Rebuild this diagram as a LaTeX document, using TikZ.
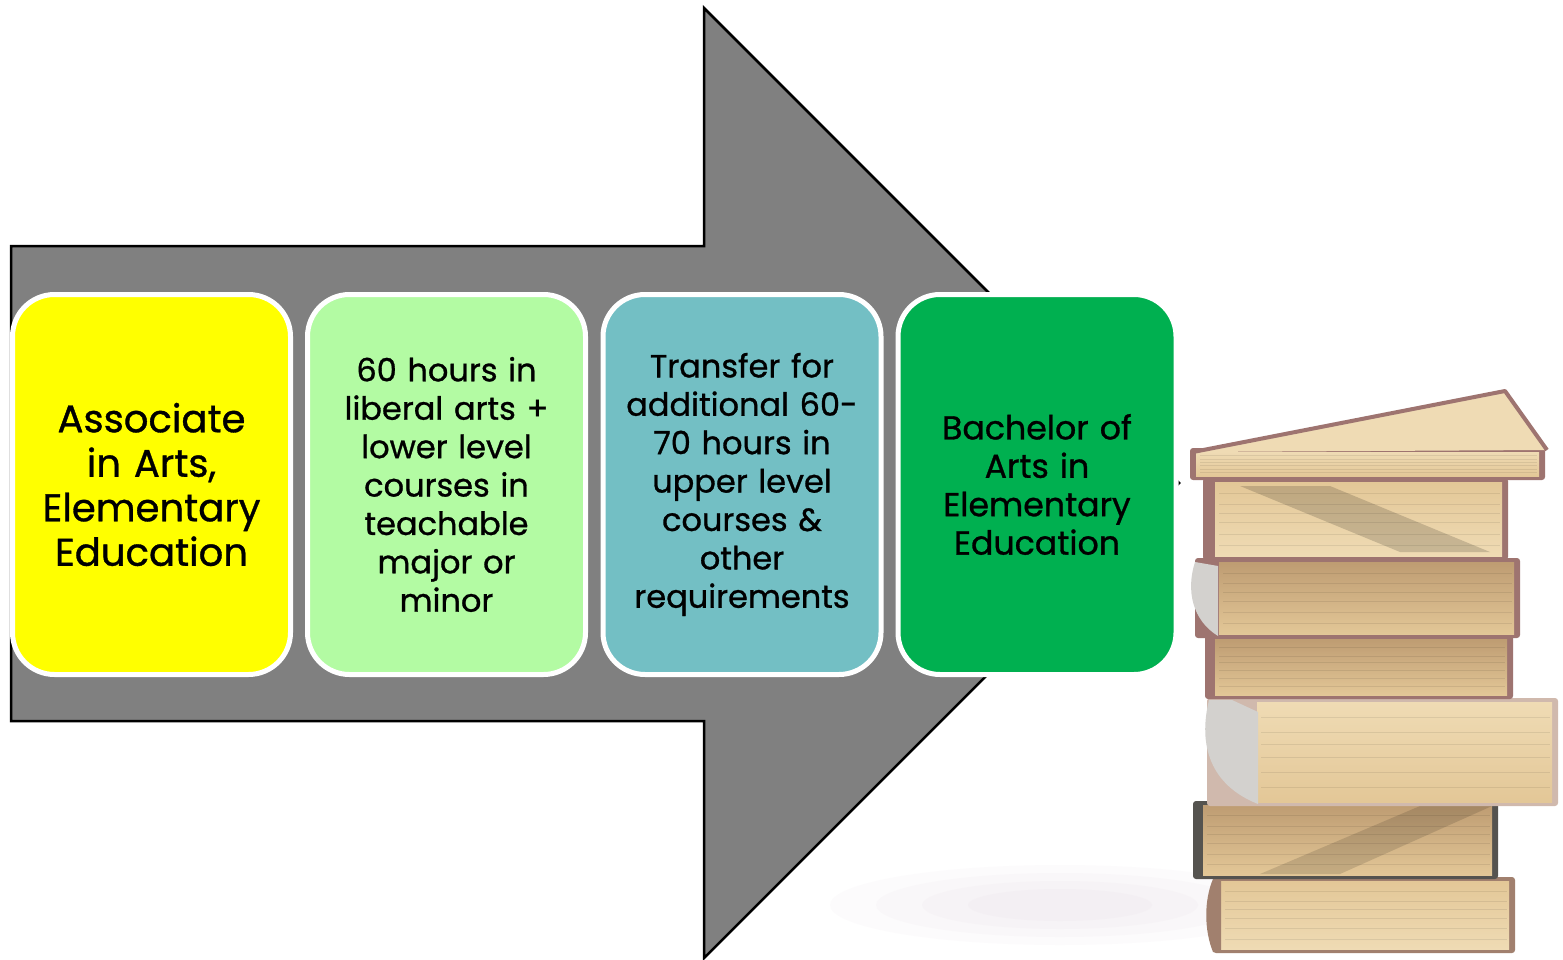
\documentclass[tikz,border=0pt]{standalone}
\usepackage{fontspec}
\setmainfont{Poppins}
\newfontfamily\boxfont{Poppins}[FakeBold=0.9]
\definecolor{arrowgray}{HTML}{808080}
\definecolor{cyellow}{HTML}{FFFF00}
\definecolor{clgreen}{HTML}{B3FBA3}
\definecolor{cteal}{HTML}{73BFC4}
\definecolor{cgreen}{HTML}{00B050}
\definecolor{pagetan}{HTML}{E3C797}
\definecolor{pagedark}{HTML}{BE9C72}
\definecolor{pagelight}{HTML}{EFDBB4}
\definecolor{coverbrown}{HTML}{A9806A}
\definecolor{covermauve}{HTML}{9E7470}
\definecolor{covergrey}{HTML}{55534F}
\definecolor{spinegrey}{HTML}{D3D1CE}
\definecolor{floorshadow}{HTML}{E9DFE5}
\newcommand{\mybook}[8]{%
  \fill[#5, rounded corners=3pt] (#1,#2) rectangle (#3,#4);
  \shade[top color=#6, bottom color=#7] ({#1+#8},{#2+4}) rectangle ({#3-6},{#4-4});
  \foreach \k in {0.15,0.3,0.42,0.55,0.7,0.85}{
    \draw[black, line width=0.6pt, opacity=0.08] ({#1+#8+4},{#2+4+\k*(#4-#2-8)}) -- ({#3-8},{#2+4+\k*(#4-#2-8)});
  }
}
\begin{document}
\begin{tikzpicture}[x=1pt,y=-1pt,
  box/.style={rounded corners=42pt, draw=white, line width=5pt,
    minimum width=278pt, minimum height=380pt, align=center,
    inner sep=0pt, text width=272pt},
  bigtext/.style={font=\boxfont\fontsize{38.6}{44.5}\selectfont},
  smalltext/.style={font=\boxfont\fontsize{32}{38.4}\selectfont},
  greentext/.style={font=\boxfont\fontsize{33.2}{38.4}\selectfont}]
\useasboundingbox (0,0) rectangle (1563,960);
\fill[white] (0,0) rectangle (1563,960);
% faint floor shadow
\foreach \r/\o in {1/0.10,0.8/0.12,0.6/0.14,0.4/0.16}{
  \fill[floorshadow, opacity=\o] (1060,905) ellipse [x radius=230*\r, y radius=40*\r];
}
% big arrow
\coordinate (a1) at (11,246);
\coordinate (a2) at (704,246);
\coordinate (a3) at (704,8);
\coordinate (tip) at (1179,483);
\coordinate (a5) at (704,958);
\coordinate (a6) at (704,721);
\coordinate (a7) at (11,721);
\draw[fill=arrowgray, draw=black, line width=2.5pt, line join=miter]
  (a1) -- (a2) -- (a3) -- (tip) -- (a5) -- (a6) -- (a7) -- cycle;
% boxes
\node[box, fill=cyellow, bigtext] (b1) at (151.5,484.5) {Associate\\in Arts,\\Elementary\\Education};
\node[box, fill=clgreen, smalltext] (b2) at (446.5,484.5) {60 hours in\\liberal arts +\\lower level\\courses in\\teachable\\major or\\minor};
\node[box, fill=cteal, smalltext] (b3) at (742,484.5) {Transfer for\\additional 60-\\70 hours in\\upper level\\courses \&\\other\\requirements};
\node[box, fill=cgreen, greentext] (b4) at (1037,484.5) {Bachelor of\\Arts in\\Elementary\\Education};
% books (bottom to top)
\mybook{1213}{877}{1515}{953}{coverbrown!80!gray}{pagetan}{pagelight}{8}
\fill[coverbrown!80!gray] (1213,879) .. controls (1204,900) and (1204,930) .. (1213,952) -- (1221,952) -- (1221,879) -- cycle;
\mybook{1193}{801}{1498}{879}{covergrey}{pagedark}{pagetan}{10}
\fill[black, opacity=0.13] (1260,874) -- (1420,806) -- (1492,806) -- (1340,874) -- cycle;
\mybook{1207}{698}{1558}{806}{coverbrown!55!white}{pagelight}{pagetan}{50}
\fill[spinegrey] (1209,700) .. controls (1198,745) and (1210,785) .. (1258,804) -- (1258,712) -- (1232,700) -- cycle;
\mybook{1205}{635}{1513}{699}{covermauve}{pagedark}{pagetan}{10}
\mybook{1195}{558}{1520}{638}{covermauve}{pagedark}{pagetan}{24}
\fill[spinegrey] (1195,562) .. controls (1186,590) and (1192,620) .. (1218,636) -- (1218,566) -- cycle;
\mybook{1203}{478}{1508}{560}{covermauve}{pagetan}{pagelight}{12}
\fill[black, opacity=0.16] (1240,486) -- (1330,486) -- (1490,552) -- (1400,552) -- cycle;
% top book with open cover
\mybook{1190}{448}{1545}{480}{covermauve}{pagelight}{pagetan}{6}
\fill[pagelight] (1193,452) -- (1505,391) -- (1547,450) -- cycle;
\draw[covermauve, line width=4pt, line join=round] (1193,452) -- (1505,391) -- (1547,450);
\end{tikzpicture}
\end{document}
